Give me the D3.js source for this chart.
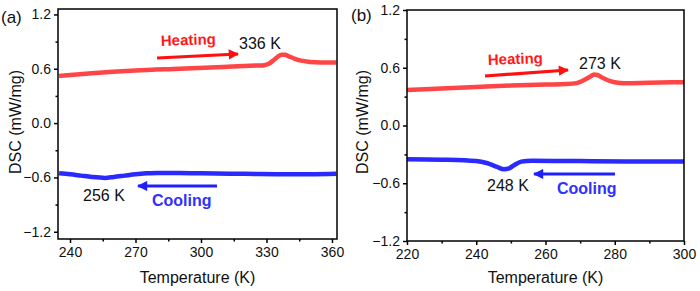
<!DOCTYPE html>
<html><head><meta charset="utf-8">
<script src="https://cdn.jsdelivr.net/npm/d3@7"></script>
<style>body{margin:0;background:#fff}svg{display:block;font-family:"Liberation Sans",Arial,sans-serif}</style>
</head><body><svg id="c" width="700" height="291"></svg>
<script>
// Panel (a) data
const aHeatT = [235,250,270,290,310,325,329,331,333,335,337,338.5,340,343,346,350,355,362];
const aHeatV = [0.52,0.55,0.58,0.60,0.62,0.635,0.64,0.655,0.69,0.73,0.755,0.755,0.74,0.71,0.69,0.675,0.67,0.67];
const aCoolT = [235,240,245,250,256,260,265,270,275,280,290,300,320,340,350,362];
const aCoolV = [-0.555,-0.565,-0.58,-0.595,-0.605,-0.595,-0.58,-0.565,-0.555,-0.55,-0.552,-0.555,-0.56,-0.565,-0.565,-0.56];
const aXTicks = [240,270,300,330,360];
const aYTicks = [-1.2,-0.6,0.0,0.6,1.2];
// Panel (b) data
const bHeatT = [220,230,240,250,260,266,269,271,273,274,275,276,278,280,283,290,300];
const bHeatV = [0.37,0.385,0.40,0.415,0.425,0.43,0.44,0.47,0.51,0.53,0.525,0.505,0.47,0.45,0.44,0.445,0.45];
const bCoolT = [220,230,240,243,246,248,249.5,251,253,256,270,285,300];
const bCoolV = [-0.35,-0.355,-0.37,-0.39,-0.43,-0.455,-0.445,-0.41,-0.375,-0.365,-0.37,-0.375,-0.375];
const bXTicks = [220,240,260,280,300];
const bYTicks = [-1.2,-0.6,0.0,0.6,1.2];

const svg = d3.select("#c");
const defs = svg.append("defs");
function marker(id, color){
  defs.append("marker").attr("id",id).attr("viewBox","0 0 10 10").attr("refX",9).attr("refY",5)
    .attr("markerWidth",4.5).attr("markerHeight",3.2).attr("markerUnits","strokeWidth").attr("orient","auto")
    .append("path").attr("d","M0,0L10,5L0,10z").attr("fill",color);
}
marker("ar","#ff1010"); marker("ab","#2020ff");

function panel(cfg){
  const g = svg.append("g");
  const x = d3.scaleLinear().domain(cfg.xd).range(cfg.xr);
  const y = d3.scaleLinear().domain(cfg.yd).range(cfg.yr);
  const line = d3.line().x(d=>x(d[0])).y(d=>y(d[1])).curve(d3.curveMonotoneX);
  g.append("path").datum(cfg.heatT.map((t,i)=>[t,cfg.heatV[i]])).attr("d",line)
    .attr("fill","none").attr("stroke","#ff4545").attr("stroke-width",4.5).attr("stroke-linejoin","round");
  g.append("path").datum(cfg.coolT.map((t,i)=>[t,cfg.coolV[i]])).attr("d",line)
    .attr("fill","none").attr("stroke","#2a2aff").attr("stroke-width",4.5).attr("stroke-linejoin","round");
  // frame
  g.append("rect").attr("x",cfg.xr[0]).attr("y",cfg.yr[1]).attr("width",cfg.xr[1]-cfg.xr[0]).attr("height",cfg.yr[0]-cfg.yr[1])
    .attr("fill","none").attr("stroke","#000").attr("stroke-width",1.5);
  // axes
  const xa = g.append("g").attr("transform",`translate(0,${cfg.yr[0]})`)
    .call(d3.axisBottom(x).tickValues(cfg.xt).tickSize(4).tickPadding(4).tickFormat(d3.format("d")));
  const ya = g.append("g").attr("transform",`translate(${cfg.xr[0]},0)`)
    .call(d3.axisLeft(y).tickValues(cfg.yt).tickSize(4).tickPadding(3).tickFormat(d3.format(".1f")));
  // minor ticks
  const xm = d3.pairs(cfg.xt).map(p=>(p[0]+p[1])/2);
  const ym = d3.pairs(cfg.yt).map(p=>(p[0]+p[1])/2);
  g.append("g").attr("transform",`translate(0,${cfg.yr[0]})`).call(d3.axisBottom(x).tickValues(xm).tickSize(2.5).tickFormat(""));
  g.append("g").attr("transform",`translate(${cfg.xr[0]},0)`).call(d3.axisLeft(y).tickValues(ym).tickSize(2.5).tickFormat(""));
  g.selectAll(".domain").remove();
  g.selectAll(".tick line").attr("stroke","#000").attr("stroke-width",1.5);
  xa.selectAll("text").attr("font-size",14).attr("font-family","Liberation Sans, Arial").attr("fill","#111");
  ya.selectAll("text").attr("font-size",14).attr("font-family","Liberation Sans, Arial").attr("fill","#111");
  // titles
  g.append("text").attr("x",(cfg.xr[0]+cfg.xr[1])/2).attr("y",283).attr("text-anchor","middle")
    .attr("font-size",16).attr("fill","#111").text("Temperature (K)");
  g.append("text").attr("transform",`translate(${cfg.ylx},122) rotate(-90)`).attr("text-anchor","middle")
    .attr("font-size",16).attr("fill","#111").text("DSC (mW/mg)");
  g.append("text").attr("x",cfg.lab[0]).attr("y",cfg.lab[1]).attr("font-size",17).attr("fill","#111").text(cfg.label);
  // annotations
  const A = cfg.ann;
  g.append("line").attr("x1",A.ha[0]).attr("y1",A.ha[1]).attr("x2",A.ha[2]).attr("y2",A.ha[3])
    .attr("stroke","#ff1010").attr("stroke-width",3.2).attr("marker-end","url(#ar)");
  g.append("text").attr("x",A.ht[0]).attr("y",A.ht[1]).attr("font-size",15).attr("font-weight","bold")
    .attr("fill","#ff1a1a").attr("transform",`rotate(-2,${A.ht[0]},${A.ht[1]})`).text("Heating");
  g.append("text").attr("x",A.hk[0]).attr("y",A.hk[1]).attr("font-size",16).attr("fill","#111").text(A.hkText);
  g.append("line").attr("x1",A.ca[0]).attr("y1",A.ca[1]).attr("x2",A.ca[2]).attr("y2",A.ca[3])
    .attr("stroke","#2020ff").attr("stroke-width",3.2).attr("marker-end","url(#ab)");
  g.append("text").attr("x",A.ct[0]).attr("y",A.ct[1]).attr("font-size",16).attr("font-weight","bold")
    .attr("fill","#3030ff").text("Cooling");
  g.append("text").attr("x",A.ck[0]).attr("y",A.ck[1]).attr("font-size",16).attr("fill","#111").text(A.ckText);
}

panel({xd:[234.5,362.3], xr:[58,337], yd:[-1.28,1.26], yr:[239,9],
  heatT:aHeatT, heatV:aHeatV, coolT:aCoolT, coolV:aCoolV, xt:aXTicks, yt:aYTicks,
  ylx:21, lab:[1,23], label:"(a)",
  ann:{ha:[157,58,238,54], ht:[161,46], hk:[239,49], hkText:"336 K",
       ca:[217,186,138,186], ct:[152,206], ck:[83,201], ckText:"256 K"}});
panel({xd:[220,300], xr:[407,684], yd:[-1.2,1.2], yr:[241,10],
  heatT:bHeatT, heatV:bHeatV, coolT:bCoolT, coolV:bCoolV, xt:bXTicks, yt:bYTicks,
  ylx:368, lab:[351,21], label:"(b)",
  ann:{ha:[485,76,568,70], ht:[488,65], hk:[579,69], hkText:"273 K",
       ca:[615,174,534,174], ct:[557,194], ck:[487,191], ckText:"248 K"}});
</script></body></html>
